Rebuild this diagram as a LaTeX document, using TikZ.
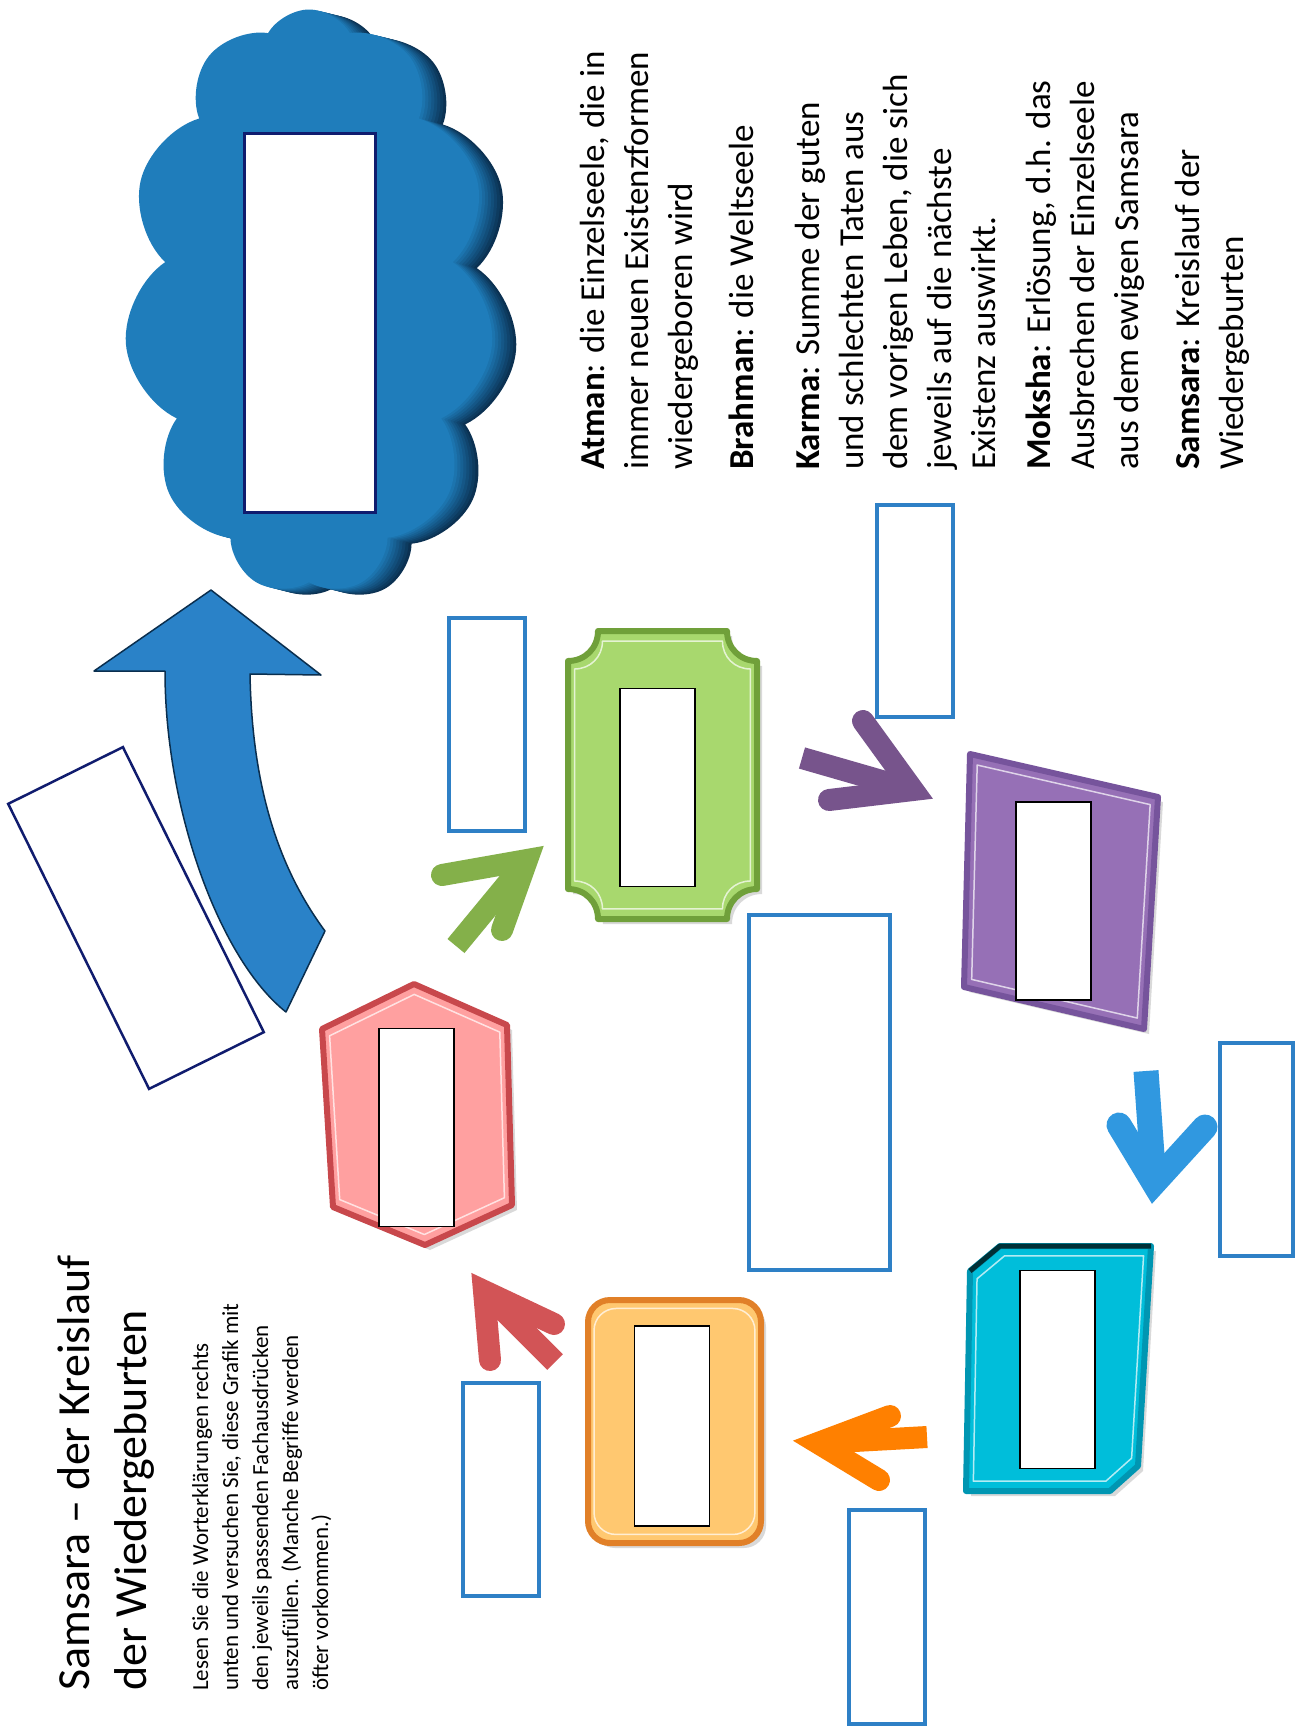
\documentclass[tikz,border=0pt]{standalone}
\usepackage{fontspec}
\setmainfont{Carlito}
\usetikzlibrary{positioning,shapes.symbols}

\definecolor{cloudblue}{RGB}{31,125,187}
\definecolor{clouddark}{RGB}{10,46,78}
\definecolor{arrowblue}{RGB}{42,130,200}
\definecolor{navy}{RGB}{16,28,110}
\definecolor{boxblue}{RGB}{46,128,198}
\definecolor{leaf}{RGB}{168,216,110}
\definecolor{leafdark}{RGB}{112,160,58}
\definecolor{leafarrow}{RGB}{132,176,74}
\definecolor{lilac}{RGB}{150,112,182}
\definecolor{lilacdark}{RGB}{118,84,156}
\definecolor{lilacarrow}{RGB}{119,84,140}
\definecolor{rose}{RGB}{255,160,160}
\definecolor{rosedark}{RGB}{200,72,76}
\definecolor{rosearrow}{RGB}{210,84,86}
\definecolor{apricot}{RGB}{255,200,112}
\definecolor{apricotdark}{RGB}{225,128,40}
\definecolor{tangerine}{RGB}{255,128,0}
\definecolor{aqua}{RGB}{0,190,218}
\definecolor{aquadark}{RGB}{0,150,178}
\definecolor{sky}{RGB}{48,152,224}

\begin{document}
\begin{tikzpicture}
    [x=1pt,y=-1pt,
     slot/.style={rectangle,draw=black,line width=1.5pt,fill=white,minimum width=75pt,minimum height=198pt,inner sep=0pt},
     answer/.style={rectangle,draw=boxblue,line width=3.5pt,inner sep=0pt},
     puff/.style={cloud,cloud puffs=11,cloud puff arc=120,aspect=0.65,minimum width=370pt,minimum height=585pt,inner sep=0pt},
     prong/.style={line width=22pt,line cap=round,line join=miter},
     stem/.style={line width=22pt,line cap=butt},
     frame/.style={line width=6pt,line join=round},
     bevel/.style={draw=white,line width=1.5pt,opacity=.7,line join=round},
     shade/.style={fill=black,opacity=.15},
     term/.style={rotate=90,anchor=north west,inner sep=0pt,align=left,font=\fontsize{35}{44}\selectfont},
     leafshape/.style={insert path={(598,631) -- (727,631) .. controls (727,648) and (740,661) .. (757,661)
       -- (757,889) .. controls (740,889) and (727,902) .. (727,919) -- (598,919)
       .. controls (598,902) and (585,889) .. (568,889) -- (568,661) .. controls (585,661) and (598,648) .. (598,631) -- cycle}},
     lilacshape/.style={insert path={(970,754) -- (1158,797) -- (1144,1029) -- (964,987) -- cycle}},
     aquashape/.style={insert path={(1000,1246) -- (1151,1246) -- (1138,1466) -- (1110,1491) -- (966,1491) -- (970,1271) -- cycle}},
     apricotshape/.style={insert path={[rounded corners=22pt] (588,1300) rectangle (761,1543)}},
     roseshape/.style={insert path={(414,984) -- (507,1025) -- (512,1205) -- (425,1245) -- (333,1207) -- (322,1029) -- cycle}}]

    \useasboundingbox (0,0) rectangle (1300,1727);
    \fill[white] (0,0) rectangle (1300,1727);

    % heading and task
    \node[rotate=90,anchor=north west,inner sep=0pt,align=left,font=\fontsize{46}{57}\selectfont] (title) at (57,1691)
      {Samsara – der Kreislauf\\der Wiedergeburten};
    \node[rotate=90,anchor=north west,inner sep=0pt,align=left,font=\fontsize{23}{30}\selectfont] (task) at (192,1691)
      {Lesen Sie die Worterklärungen rechts\\unten und versuchen Sie, diese Grafik mit\\den jeweils passenden Fachausdrücken\\auszufüllen. (Manche Begriffe werden\\öfter vorkommen.)};

    % glossary
    \node[term] (atman) at (580,470) {\textbf{Atman}: die Einzelseele, die in\\immer neuen Existenzformen\\wiedergeboren wird};
    \node[term] (brahman) at (729,470) {\textbf{Brahman}: die Weltseele};
    \node[term] (karma) at (795,470) {\textbf{Karma}: Summe der guten\\und schlechten Taten aus\\dem vorigen Leben, die sich\\jeweils auf die nächste\\Existenz auswirkt.};
    \node[term] (moksha) at (1026,470) {\textbf{Moksha}: Erlösung, d.h. das\\Ausbrechen der Einzelseele\\aus dem ewigen Samsara};
    \node[term] (samsara) at (1175,470) {\textbf{Samsara}: Kreislauf der\\Wiedergeburten};

    % cloud
    \foreach \d in {24,21,...,3} {
      \pgfmathtruncatemacro\p{\d*4}
      \node[puff,fill=clouddark!\p!cloudblue] at (309+\d,302+\d/4) {};
    }
    \node[puff,fill=cloudblue] (cloud) at (309,302) {};
    \node[slot,draw=navy,line width=3pt,minimum width=131pt,minimum height=379pt] (heaven) at (309.5,322.5) {};

    % way out
    \draw[fill=arrowblue,draw=clouddark,line width=1.5pt,line join=round]
      (211,590) -- (321,675) -- (250,674) .. controls (252,790) and (280,870) .. (325,931)
      -- (286,1012) .. controls (220,960) and (165,810) .. (165,671) -- (94,671) -- cycle;
    \node[draw=navy,line width=2.5pt,rotate=-63.7,minimum width=318pt,minimum height=128pt] (exit) at (136,918) {};

    % frames
    \fill[shade,shift={(5,5)},leafshape];
    \draw[frame,draw=leafdark,fill=leaf,leafshape];
    \draw[bevel,scale around={0.93:(662,775)},leafshape];

    \fill[shade,shift={(5,5)},lilacshape];
    \draw[frame,draw=lilacdark,fill=lilac,lilacshape];
    \draw[bevel,scale around={0.92:(1060,892)},lilacshape];

    \fill[shade,shift={(5,5)},aquashape];
    \draw[frame,draw=aquadark,fill=aqua,aquashape];
    \draw[bevel,scale around={0.92:(1058,1368)},aquashape];
    \draw[line width=5pt,draw=black!75!aqua,line join=round] (970,1271) -- (1000,1246) -- (1151,1246);

    \fill[shade,shift={(5,5)},apricotshape];
    \draw[frame,draw=apricotdark,fill=apricot,apricotshape];
    \draw[bevel,scale around={0.93:(674,1421)},apricotshape];

    \fill[shade,shift={(5,5)},roseshape];
    \draw[frame,draw=rosedark,fill=rose,roseshape];
    \draw[bevel,scale around={0.92:(417,1114)},roseshape];

    \node[slot] (leafslot) at (657.5,787.5) {};
    \node[slot] (lilacslot) at (1053.5,901) {};
    \node[slot] (aquaslot) at (1057.5,1369.5) {};
    \node[slot,minimum height=200pt] (apricotslot) at (672,1426) {};
    \node[slot] (roseslot) at (416.5,1127.5) {};

    % arrows between the frames
    \coordinate (gtip) at (527,860);
    \draw[prong,leafarrow] (442,875) -- (gtip) -- (502,930);
    \draw[stem,leafarrow] (456,946) -- (gtip);
    \coordinate (ltip) at (913,790);
    \draw[prong,lilacarrow] (863,721) -- (ltip) -- (829,800);
    \draw[stem,lilacarrow] (802,758) -- (ltip);
    \coordinate (stip) at (1154,1183);
    \draw[prong,sky,line width=25pt] (1119,1125) -- (stip) -- (1205,1127);
    \draw[stem,sky,line width=25pt] (1146,1071) -- (stip);
    \coordinate (otip) at (818,1443);
    \draw[prong,tangerine] (890,1416) -- (otip) -- (879,1480);
    \draw[stem,tangerine] (927,1437) -- (otip);
    \coordinate (rtip) at (484,1291);
    \draw[prong,rosearrow] (490,1360) -- (rtip) -- (554,1324);
    \draw[stem,rosearrow] (555,1362) -- (rtip);

    % blanks
    \node[answer,minimum width=76pt,minimum height=213pt] (blankleaf) at (487,724.5) {};
    \node[answer,minimum width=76pt,minimum height=212pt] (blanklilac) at (915,611) {};
    \node[answer,minimum width=141pt,minimum height=355pt] (blankmid) at (819.5,1092.5) {};
    \node[answer,minimum width=73pt,minimum height=213pt] (blanksky) at (1256.5,1149.5) {};
    \node[answer,minimum width=76pt,minimum height=214pt] (blankorange) at (887,1617) {};
    \node[answer,minimum width=76pt,minimum height=213pt] (blankrose) at (501,1489.5) {};
\end{tikzpicture}
\end{document}
